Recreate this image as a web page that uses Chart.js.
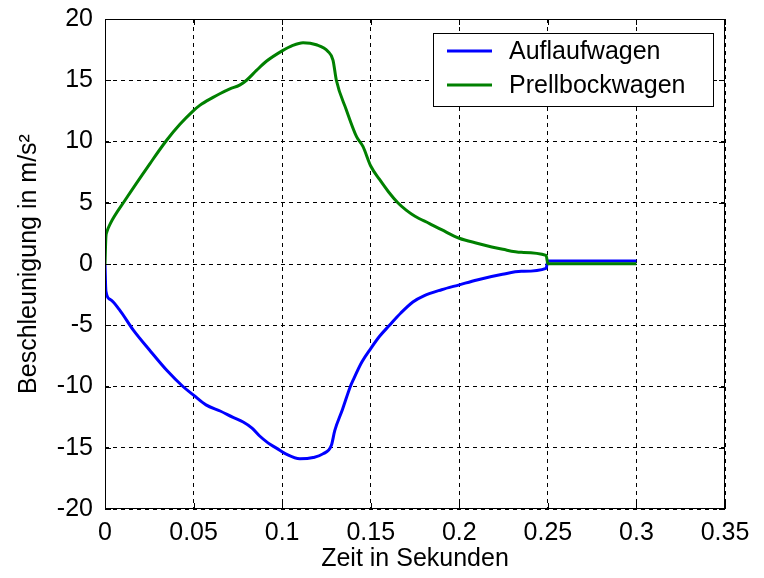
<!DOCTYPE html>
<html>
<head>
<meta charset="utf-8">
<script src="https://cdn.jsdelivr.net/npm/chart.js@4/dist/chart.umd.min.js"></script>
<style>
  body { margin: 0; background: #fff; }
  canvas { display: block; }
</style>
</head>
<body>
<canvas id="graph" width="764" height="578"></canvas>
<script>
// time axis ticks and labels
const xTickLabels = ['0', '0.05', '0.1', '0.15', '0.2', '0.25', '0.3', '0.35'];
const yTickLabels = ['-20', '-15', '-10', '-5', '0', '5', '10', '15', '20'];

// Auflaufwagen (blue)
const aufTime = [0, 0.0005, 0.003, 0.008, 0.016, 0.025, 0.035, 0.044, 0.05, 0.057, 0.065, 0.072, 0.078, 0.083, 0.087, 0.092, 0.097, 0.102, 0.11, 0.1175, 0.123, 0.1278, 0.1297, 0.134, 0.1385, 0.14, 0.145, 0.15, 0.155, 0.1606, 0.167, 0.1738, 0.18, 0.19, 0.2, 0.21, 0.2244, 0.235, 0.249, 0.25, 0.3];
const aufValues = [0, -2.2, -2.9, -3.7, -5.4, -7.0, -8.7, -10.0, -10.7, -11.5, -12.0, -12.5, -12.9, -13.4, -14.0, -14.6, -15.05, -15.5, -15.9, -15.8, -15.5, -14.8, -13.6, -11.9, -10.0, -9.5, -8.0, -6.9, -5.9, -5.0, -4.0, -3.1, -2.6, -2.1, -1.7, -1.3, -0.84, -0.6, -0.35, 0.25, 0.25];

// Prellbockwagen (green)
const prellTime = [0, 0.0005, 0.001, 0.003, 0.0113, 0.0254, 0.0348, 0.0423, 0.0498, 0.0535, 0.061, 0.0648, 0.0705, 0.076, 0.0799, 0.0855, 0.0911, 0.1, 0.106, 0.1118, 0.1193, 0.1259, 0.1287, 0.1306, 0.1362, 0.142, 0.1456, 0.15, 0.155, 0.16, 0.1653, 0.17, 0.175, 0.1832, 0.19, 0.2, 0.21, 0.2246, 0.235, 0.249, 0.25, 0.3];
const prellValues = [0, 2.2, 2.6, 3.3, 5.2, 8.2, 10.1, 11.4, 12.5, 12.95, 13.6, 13.9, 14.3, 14.6, 15.0, 15.8, 16.55, 17.4, 17.85, 18.07, 17.9, 17.35, 16.65, 15.0, 12.6, 10.4, 9.6, 8.0, 6.9, 5.9, 5.0, 4.4, 3.9, 3.3, 2.8, 2.1, 1.7, 1.2, 0.95, 0.7, 0.02, 0.02];

const seriesLabels = ['Auflaufwagen', 'Prellbockwagen'];
const seriesColors = ['#0000ff', '#008000'];

const fontName = '"Liberation Sans", Arial, sans-serif';
const fontSize = 25;

function toPoints(xs, ys) {
    return xs.map((x, i) => ({ x: x, y: ys[i] }));
}

// frame with inward ticks, and the legend box
const framePlugin = {
    id: 'frame',
    afterDraw(chart) {
        const ctx = chart.ctx;
        const a = chart.chartArea;
        const xs = chart.scales.x;
        const ys = chart.scales.y;
        ctx.save();
        ctx.strokeStyle = '#000';
        ctx.lineWidth = 1;
        ctx.setLineDash([]);
        ctx.strokeRect(a.left + 0.5, a.top + 0.5, a.right - a.left - 1, a.bottom - a.top - 1);
        ctx.beginPath();
        xs.ticks.forEach(t => {
            const px = Math.round(xs.getPixelForValue(t.value)) + 0.5;
            ctx.moveTo(px, a.bottom); ctx.lineTo(px, a.bottom - 6);
            ctx.moveTo(px, a.top); ctx.lineTo(px, a.top + 6);
        });
        ys.ticks.forEach(t => {
            const py = Math.round(ys.getPixelForValue(t.value)) + 0.5;
            ctx.moveTo(a.left, py); ctx.lineTo(a.left + 6, py);
            ctx.moveTo(a.right, py); ctx.lineTo(a.right - 6, py);
        });
        ctx.stroke();

        // legend
        const w = 280, h = 73;
        const bx = a.right - 12 - w, by = a.top + 14;
        ctx.fillStyle = '#fff';
        ctx.fillRect(bx, by, w, h);
        ctx.strokeRect(bx + 0.5, by + 0.5, w, h);
        ctx.font = fontSize + 'px ' + fontName;
        ctx.textBaseline = 'middle';
        chart.data.datasets.forEach((ds, i) => {
            const cy = by + 18 + i * 34;
            ctx.strokeStyle = ds.borderColor;
            ctx.lineWidth = 3;
            ctx.beginPath();
            ctx.moveTo(bx + 14, cy);
            ctx.lineTo(bx + 59, cy);
            ctx.stroke();
            ctx.fillStyle = '#000';
            ctx.fillText(ds.label, bx + 76, cy + 1);
        });
        ctx.restore();
    }
};

const ctx = document.getElementById('graph').getContext('2d');
const chart = new Chart(ctx, {
    type: 'line',
    data: {
        datasets: [{
            label: seriesLabels[0],
            data: toPoints(aufTime, aufValues),
            borderColor: seriesColors[0],
            borderWidth: 3,
            pointRadius: 0,
            order: 1,
            cubicInterpolationMode: 'monotone',
        }, {
            label: seriesLabels[1],
            data: toPoints(prellTime, prellValues),
            borderColor: seriesColors[1],
            borderWidth: 3,
            pointRadius: 0,
            order: 0,
            cubicInterpolationMode: 'monotone',
        }],
    },
    options: {
        responsive: false,
        animation: false,
        events: [],
        layout: { padding: { top: 19, right: 39, left: 0, bottom: 0 } },
        plugins: { legend: { display: false }, tooltip: { enabled: false } },
        scales: {
            x: {
                type: 'linear',
                min: 0,
                max: 0.35,
                afterBuildTicks: s => { s.ticks = xTickLabels.map(l => ({ value: parseFloat(l) })); },
                afterFit: s => { s.height = 69; },
                ticks: {
                    callback: (v, i) => xTickLabels[i],
                    color: '#000',
                    font: { family: fontName, size: fontSize },
                    padding: 9,
                    maxRotation: 0,
                },
                grid: { color: '#000', drawTicks: false },
                border: { display: false, dash: [4, 4] },
                title: {
                    display: true,
                    text: 'Zeit in Sekunden',
                    color: '#000',
                    font: { family: fontName, size: fontSize },
                    padding: { top: 0, bottom: 4 },
                },
            },
            y: {
                min: -20,
                max: 20,
                afterBuildTicks: s => { s.ticks = yTickLabels.map(l => ({ value: parseFloat(l) })); },
                afterFit: s => { s.width = 105; s.paddingTop = 10; s.paddingBottom = 10; },
                ticks: {
                    callback: (v, i) => yTickLabels[i],
                    color: '#000',
                    font: { family: fontName, size: fontSize },
                    padding: 12,
                },
                grid: { color: '#000', drawTicks: false },
                border: { display: false, dash: [4, 4] },
                title: {
                    display: true,
                    text: 'Beschleunigung in m/s²',
                    color: '#000',
                    font: { family: fontName, size: fontSize },
                    padding: { top: 14, bottom: 0 },
                },
            },
        },
    },
    plugins: [framePlugin],
});
</script>
</body>
</html>
